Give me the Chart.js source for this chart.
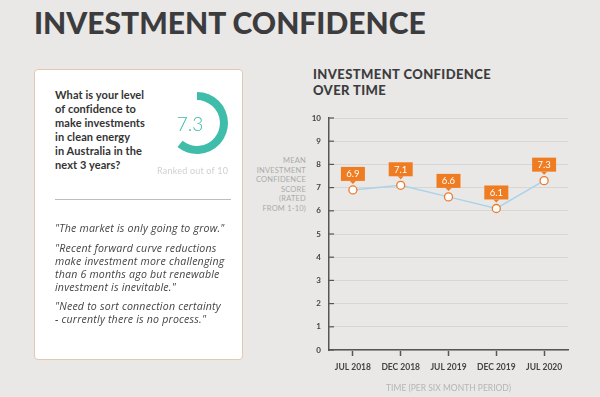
<!DOCTYPE html>
<html><head><meta charset="utf-8">
<script src="https://cdn.jsdelivr.net/npm/chart.js@4/dist/chart.umd.min.js"></script>
<style>
html,body{margin:0;padding:0;}
body{width:600px;height:397px;background:#e9e8e6;position:relative;overflow:hidden;font-family:Lato,"Open Sans",sans-serif;}
#title{position:absolute;left:34px;top:4px;font-family:Lato;font-weight:900;font-size:30px;color:#3c3c3e;letter-spacing:0px;white-space:nowrap;}
#card{position:absolute;left:34px;top:69px;width:207px;height:289px;background:#fff;border:1px solid #e2c8ae;border-radius:4px;}
#q{position:absolute;left:55px;top:88px;font-weight:700;font-size:11px;line-height:14px;color:#333;letter-spacing:0.1px;}
#donut{position:absolute;left:166px;top:92px;width:62px;height:62px;}
#donutVal{position:absolute;left:171px;top:112px;width:38px;text-align:center;font-size:19px;font-weight:300;color:#3dbba9;}
#ranked{position:absolute;left:157px;top:165px;font-size:9px;color:#d0d0d0;letter-spacing:0.2px;}
#div{position:absolute;left:55px;top:199px;width:176px;height:1px;background:#bdbdbd;}
#quotes{position:absolute;left:55px;top:222px;font-family:"Open Sans";font-style:italic;font-size:10.6px;line-height:13px;color:#444;letter-spacing:0.2px;}
#quotes p{margin:0 0 6.5px 0;}
#ctitle{position:absolute;left:313px;top:66px;font-weight:900;font-size:13px;line-height:16px;color:#3c3c3e;letter-spacing:0.4px;}
#ytitle{position:absolute;left:240px;top:156px;width:66px;text-align:right;font-size:7.5px;line-height:9.6px;color:#aaa;letter-spacing:0.2px;}
#chartWrap{position:absolute;left:250px;top:100px;width:340px;height:297px;}
</style></head>
<body>
<div id="title">INVESTMENT CONFIDENCE</div>
<div id="card"></div>
<div id="q">What is your level<br>of confidence to<br>make investments<br>in clean energy<br>in Australia in the<br>next 3 years?</div>
<canvas id="donut" width="62" height="62"></canvas>
<div id="donutVal">7.3</div>
<div id="ranked">Ranked out of 10</div>
<div id="div"></div>
<div id="quotes">
<p>"The market is only going to grow."</p>
<p>"Recent forward curve reductions<br>make investment more challenging<br>than 6 months ago but renewable<br>investment is inevitable."</p>
<p>"Need to sort connection certainty<br>- currently there is no process."</p>
</div>
<div id="ctitle">INVESTMENT CONFIDENCE<br>OVER TIME</div>
<div id="ytitle">MEAN<br>INVESTMENT<br>CONFIDENCE<br>SCORE<br>(RATED<br>FROM 1-10)</div>
<div id="chartWrap"><canvas id="chart"></canvas></div>
<script>
const periods = ["JUL 2018", "DEC 2018", "JUL 2019", "DEC 2019", "JUL 2020"];
const confidence = [6.9, 7.1, 6.6, 6.1, 7.3];
const currentScore = 7.3;
const maxScore = 10;

new Chart(document.getElementById('donut'), {
  type: 'doughnut',
  data: { datasets: [{ data: [currentScore, maxScore - currentScore], backgroundColor: ['#3fbdaa', 'rgba(0,0,0,0)'], borderWidth: 0 }] },
  options: { responsive: false, animation: false, cutout: '74%', circumference: 300, rotation: 0,
    plugins: { legend: { display: false }, tooltip: { enabled: false } } }
});

const labelPlugin = {
  id: 'boxLabels',
  afterDatasetsDraw(chart) {
    const ctx = chart.ctx;
    const meta = chart.getDatasetMeta(0);
    ctx.save();
    meta.data.forEach((pt, i) => {
      const w = 24, h = 14;
      const x = pt.x, bottom = pt.y - 9;
      ctx.fillStyle = '#f07c22';
      ctx.fillRect(x - w / 2, bottom - h, w, h);
      ctx.beginPath();
      ctx.moveTo(x - 3, bottom); ctx.lineTo(x + 3, bottom); ctx.lineTo(x, bottom + 3); ctx.closePath(); ctx.fill();
      ctx.fillStyle = '#fff';
      ctx.font = '9.5px Lato';
      ctx.textAlign = 'center'; ctx.textBaseline = 'middle';
      ctx.fillText(confidence[i].toFixed(1), x, bottom - h / 2 + 0.5);
    });
    ctx.restore();
  }
};

const yTickPlugin = {
  id: 'yInnerTicks',
  afterDraw(chart) {
    const ctx = chart.ctx, y = chart.scales.y, a = chart.chartArea;
    ctx.save(); ctx.strokeStyle = '#555'; ctx.lineWidth = 1.2;
    y.ticks.forEach((t, i) => {
      const py = y.getPixelForTick(i);
      ctx.beginPath(); ctx.moveTo(a.left, py); ctx.lineTo(a.left + 5, py); ctx.stroke();
    });
    ctx.restore();
  }
};

new Chart(document.getElementById('chart'), {
  type: 'line',
  data: { labels: periods, datasets: [{ data: confidence, borderColor: '#a9d3ea', borderWidth: 1.5,
    pointBackgroundColor: '#fff', pointBorderColor: '#ec7a2c', pointBorderWidth: 1.3, pointRadius: 4, tension: 0 }] },
  options: {
    responsive: true, maintainAspectRatio: false, animation: false,
    layout: { padding: { top: 18, right: 22, left: 0, bottom: 0 } },
    plugins: { legend: { display: false }, tooltip: { enabled: false } },
    scales: {
      x: {
        offset: true,
        grid: { color: 'rgba(0,0,0,0)', tickColor: '#555', tickLength: 6, tickWidth: 1.5, drawOnChartArea: false },
        border: { color: '#555', width: 1.5 },
        ticks: { color: '#444', font: { family: 'Lato', weight: 'bold', size: 8.5 }, padding: 6, maxRotation: 0 },
        title: { display: true, text: 'TIME (PER SIX MONTH PERIOD)', color: '#b5b5b5', font: { family: 'Lato', size: 8.5 }, padding: { top: 5 } },
        afterFit(s) { s.height = 47; }
      },
      y: {
        min: 0, max: 10,
        grid: { color: '#d6d6d6', lineWidth: 1, drawTicks: false },
        border: { color: '#555', width: 1.5 },
        ticks: { stepSize: 1, color: '#444', font: { family: 'Lato', weight: 'bold', size: 8 }, padding: 8 },
        afterFit(s) { s.width = 79; }
      }
    }
  },
  plugins: [labelPlugin, yTickPlugin]
});
</script>
</body></html>
